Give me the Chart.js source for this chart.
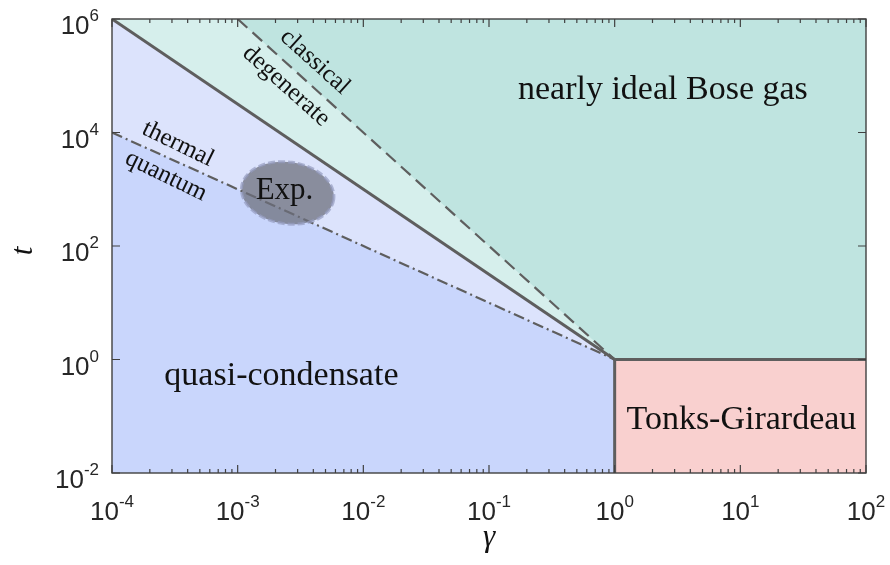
<!DOCTYPE html>
<html>
<head>
<meta charset="utf-8">
<title>1D Bose gas regimes</title>
<script src="https://cdn.jsdelivr.net/npm/chart.js@4.4.1/dist/chart.umd.min.js"></script>
<style>
  html, body { margin: 0; padding: 0; background: #fff; }
</style>
</head>
<body>
<canvas id="regimes" width="890" height="565"></canvas>
<script>
// axis ranges (interaction strength gamma, reduced temperature t)
const gammaRange = [1e-4, 1e2];
const tRange = [1e-2, 1e6];

// tick marks: decade exponents, plus minor multipliers on the gamma axis
const gammaTickExps = [-4, -3, -2, -1, 0, 1, 2];
const gammaMinorSteps = [2, 3, 4, 5, 6, 7, 8, 9];
const tTickExps = [-2, 0, 2, 4, 6];

// crossover lines as [gamma, t] corners
const degenerateLine = [[1e-4, 1e6], [1, 1]];      // t ~ gamma^-3/2
const classicalLine = [[1e-3, 1e6], [1, 1]];       // t ~ gamma^-2
const quantumLine = [[1e-4, 1e4], [1, 1]];         // t ~ gamma^-1
const tonksEdge = [[1, 1e-2], [1, 1], [1e2, 1]];

// filled regions, each filled down to the bottom of the plot
const idealRegion = [[1e-4, 1e6], [1e2, 1e6]];
const degenerateRegion = [[1e-4, 1e6], [1e-3, 1e6], [1, 1], [1e2, 1]];
const thermalRegion = [[1e-4, 1e6], [1, 1], [1, 1e-2]];
const quantumRegion = [[1e-4, 1e4], [1, 1], [1, 1e-2]];
const tonksRegion = [[1, 1], [1e2, 1]];

// experimental window: centre [gamma, t], half widths in decades, tilt in degrees
const expCenter = [2.5e-3, 860];
const expHalfDecades = [0.37, 0.545];
const expTilt = 8;

// region names: [text, gamma, t, font px, angle deg]
const regionNames = [
  ['nearly ideal Bose gas', 2.42, 5.6e4, 34, 0],
  ['quasi-condensate', 2.23e-3, 0.51, 34, 0],
  ['Tonks-Girardeau', 10.2, 0.086, 34, 0],
  ['Exp.', 2.36e-3, 950, 31, 0],
  ['classical', 4.12e-3, 1.75e5, 25, 42],
  ['degenerate', 2.43e-3, 6.6e4, 25, 42],
  ['thermal', 3.35e-4, 6.27e3, 25, 26],
  ['quantum', 2.69e-4, 1.71e3, 25, 26]
];

const pts = arr => arr.map(([g, t]) => ({ x: g, y: t }));

const region = (data, color, order) => ({
  data: pts(data), fill: 'start', backgroundColor: color,
  borderWidth: 0, pointRadius: 0, order
});

const boundary = (data, width, dash, order) => ({
  data: pts(data), fill: false, borderColor: '#5e5e5e', borderWidth: width,
  borderDash: dash, pointRadius: 0, order
});

const serif = '"Liberation Serif", "Times New Roman", serif';
const sans = '"Liberation Sans", Arial, Helvetica, sans-serif';

const decoration = {
  id: 'decoration',
  afterDatasetsDraw(chart) {
    const { ctx, scales: { x, y } } = chart;

    // experimental window
    const cx = x.getPixelForValue(expCenter[0]);
    const cy = y.getPixelForValue(expCenter[1]);
    const rx = x.getPixelForValue(expCenter[0] * Math.pow(10, expHalfDecades[0])) - cx;
    const ry = cy - y.getPixelForValue(expCenter[1] * Math.pow(10, expHalfDecades[1]));
    ctx.save();
    ctx.beginPath();
    ctx.ellipse(cx, cy, rx, ry, expTilt * Math.PI / 180, 0, 2 * Math.PI);
    ctx.fillStyle = 'rgba(108, 110, 124, 0.74)';
    ctx.fill();
    ctx.setLineDash([7, 3]);
    ctx.lineWidth = 3;
    ctx.strokeStyle = 'rgba(150, 156, 192, 0.7)';
    ctx.stroke();
    ctx.restore();

    // region names
    ctx.save();
    ctx.fillStyle = '#111';
    ctx.textAlign = 'center';
    ctx.textBaseline = 'middle';
    for (const [text, g, t, size, angle] of regionNames) {
      ctx.save();
      ctx.translate(x.getPixelForValue(g), y.getPixelForValue(t));
      ctx.rotate(angle * Math.PI / 180);
      ctx.font = size + 'px ' + serif;
      ctx.fillText(text, 0, 0);
      ctx.restore();
    }
    ctx.restore();
  },
  afterDraw(chart) {
    const { ctx, chartArea: a, scales: { x, y } } = chart;
    ctx.save();

    // axes box
    ctx.strokeStyle = '#404040';
    ctx.lineWidth = 1.4;
    ctx.strokeRect(a.left, a.top, a.right - a.left, a.bottom - a.top);

    // inward ticks
    ctx.lineWidth = 1.2;
    ctx.beginPath();
    const xTick = (v, len) => {
      const px = x.getPixelForValue(v);
      ctx.moveTo(px, a.bottom); ctx.lineTo(px, a.bottom - len);
      ctx.moveTo(px, a.top); ctx.lineTo(px, a.top + len);
    };
    gammaTickExps.forEach((e, i) => {
      xTick(Math.pow(10, e), 8);
      if (i < gammaTickExps.length - 1) {
        gammaMinorSteps.forEach(m => xTick(m * Math.pow(10, e), 4));
      }
    });
    tTickExps.forEach(e => {
      const py = y.getPixelForValue(Math.pow(10, e));
      ctx.moveTo(a.left, py); ctx.lineTo(a.left + 8, py);
      ctx.moveTo(a.right, py); ctx.lineTo(a.right - 8, py);
    });
    ctx.stroke();

    // tick labels as 10 with a raised exponent
    ctx.fillStyle = '#262626';
    ctx.textBaseline = 'alphabetic';
    ctx.textAlign = 'left';
    const power = (e, px, base, align) => {
      ctx.font = '26px ' + sans;
      const wb = ctx.measureText('10').width;
      ctx.font = '17px ' + sans;
      const sup = String(e);
      const ws = ctx.measureText(sup).width;
      const left = align === 'center' ? px - (wb + ws) / 2 : px - wb - ws;
      ctx.font = '26px ' + sans;
      ctx.fillText('10', left, base);
      ctx.font = '17px ' + sans;
      ctx.fillText(sup, left + wb, base - 13);
    };
    gammaTickExps.forEach(e => power(e, x.getPixelForValue(Math.pow(10, e)), a.bottom + 47, 'center'));
    tTickExps.forEach(e => power(e, a.left - 13, y.getPixelForValue(Math.pow(10, e)) + 15, 'right'));

    // axis titles
    ctx.fillStyle = '#111';
    ctx.textAlign = 'center';
    ctx.font = 'italic 31px ' + serif;
    ctx.fillText('\u03b3', (a.left + a.right) / 2, a.bottom + 73);
    ctx.translate(32, (a.top + a.bottom) / 2 + 5);
    ctx.rotate(-Math.PI / 2);
    ctx.fillText('t', 0, 0);
    ctx.restore();
  }
};

new Chart(document.getElementById('regimes'), {
  type: 'line',
  data: {
    datasets: [
      boundary(tonksEdge, 3, [], 1),
      boundary(degenerateLine, 3, [], 2),
      boundary(classicalLine, 2.2, [13, 7], 3),
      boundary(quantumLine, 2.2, [11, 4, 2, 4], 4),
      region(tonksRegion, '#f9d0cf', 6),
      region(quantumRegion, '#c9d6fc', 7),
      region(thermalRegion, '#dce3fc', 8),
      region(degenerateRegion, '#d6efec', 9),
      region(idealRegion, '#bfe4e0', 10)
    ]
  },
  options: {
    responsive: false,
    animation: false,
    layout: { padding: { left: 112, right: 24, top: 19, bottom: 92 } },
    elements: { line: { tension: 0 } },
    plugins: { legend: { display: false }, tooltip: { enabled: false } },
    scales: {
      x: { type: 'logarithmic', min: gammaRange[0], max: gammaRange[1], display: false },
      y: { type: 'logarithmic', min: tRange[0], max: tRange[1], display: false }
    }
  },
  plugins: [decoration]
});
</script>
</body>
</html>
